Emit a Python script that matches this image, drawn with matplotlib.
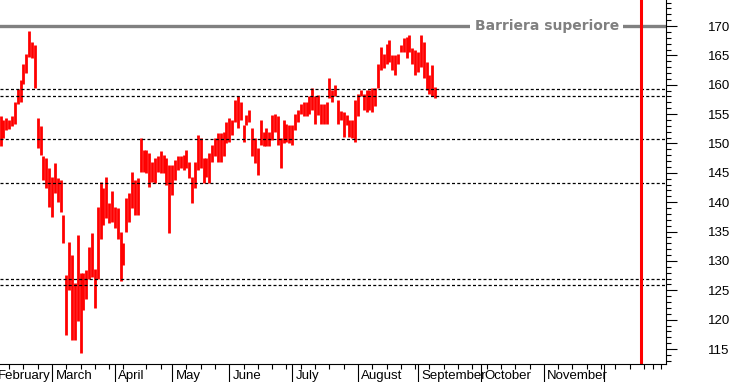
import numpy as np
import matplotlib
matplotlib.use("Agg")
import matplotlib.pyplot as plt

# daily high / low (trading days from 2020-02-05)
start = "2020-02-05"
high = [154.7, 154.0, 154.3, 154.0, 154.6, 157.1, 159.2, 160.8, 163.6, 165.3,
        169.2, 167.3, 166.8, 154.3, 152.9, 147.8, 147.5, 145.8, 144.3, 146.6,
        144.1, 143.8, 137.8, 127.6, 133.3, 131.0, 126.2, 134.4, 127.9, 127.9,
        128.4, 132.4, 134.7, 128.7, 139.2, 143.5, 142.4, 144.3, 139.8, 141.9,
        139.1, 139.0, 135.0, 133.0, 140.7, 141.5, 145.2, 143.8, 144.1, 150.9,
        148.9, 148.9, 148.3, 146.9, 147.5, 147.8, 148.7, 148.0, 147.5, 146.3,
        146.3, 147.2, 147.8, 147.8, 148.0, 148.9, 146.9, 144.3, 146.9, 151.4,
        150.9, 147.5, 147.5, 148.3, 149.8, 150.9, 151.7, 151.7, 152.0, 153.7,
        154.3, 154.0, 157.4, 158.1, 157.1, 153.1, 154.8, 155.7, 152.6, 150.9,
        149.2, 154.0, 152.0, 152.6, 152.0, 154.8, 155.1, 154.6, 150.9, 154.0,
        153.4, 153.1, 153.1, 155.1, 155.7, 156.8, 157.1, 157.1, 158.0, 159.4,
        158.0, 158.3, 156.8, 156.8, 157.1, 161.1, 159.1, 160.0, 157.4, 155.5,
        155.4, 154.8, 154.0, 154.0, 157.4, 158.5, 159.1, 158.5, 159.1, 159.1,
        159.4, 159.4, 163.6, 166.5, 165.3, 167.0, 167.6, 165.0, 165.0, 165.3,
        166.8, 167.9, 168.2, 168.5, 166.2, 165.9, 165.6, 168.5, 167.3, 163.9,
        161.7, 163.4, 159.7]
low = [149.5, 151.0, 152.3, 152.5, 153.0, 153.4, 156.8, 157.0, 160.2, 162.0,
       164.8, 164.5, 159.4, 149.2, 148.0, 143.8, 142.4, 139.2, 137.5, 141.5,
       140.1, 138.4, 133.0, 117.4, 125.0, 116.5, 116.5, 119.7, 114.3, 121.6,
       123.6, 127.0, 127.3, 122.0, 127.0, 133.8, 136.1, 137.3, 136.4, 136.7,
       135.6, 133.8, 126.5, 129.3, 135.0, 136.7, 139.0, 137.8, 137.8, 145.2,
       145.2, 144.9, 142.6, 143.5, 143.2, 145.2, 144.9, 144.9, 142.9, 134.7,
       141.2, 143.8, 145.5, 145.8, 145.5, 145.8, 144.1, 139.8, 142.4, 145.5,
       145.8, 143.2, 144.3, 143.2, 146.9, 147.8, 146.9, 146.9, 147.8, 150.0,
       150.3, 151.4, 153.7, 152.6, 154.0, 150.3, 153.1, 153.7, 147.8, 146.6,
       144.6, 149.7, 149.5, 149.5, 149.5, 150.6, 152.0, 149.7, 145.8, 150.0,
       150.3, 150.0, 149.7, 152.3, 153.7, 155.1, 154.6, 154.6, 155.1, 155.7,
       153.4, 154.8, 153.4, 153.4, 153.4, 157.7, 157.1, 158.0, 153.4, 154.0,
       151.1, 153.1, 151.1, 150.9, 150.3, 154.6, 158.0, 155.7, 155.4, 155.7,
       155.3, 156.3, 159.4, 162.5, 162.8, 163.6, 163.9, 162.5, 161.7, 163.6,
       165.6, 165.6, 164.5, 165.6, 163.6, 161.7, 162.2, 163.1, 161.1, 159.1,
       158.5, 158.0, 157.7]

livelli = [159.2, 158.0, 150.7, 143.2, 126.9, 125.85]
barriera = 170
scadenza = "2020-12-18"
mesi = ["February", "March", "April", "May", "June", "July", "August",
        "September", "October", "November", "December"]

# trading calendar (Borsa Italiana holidays)
hol = ["2020-04-10", "2020-04-13", "2020-05-01", "2020-12-24", "2020-12-25",
       "2020-12-31", "2021-01-01"]
days = np.arange("2020-02-03", "2021-01-20", dtype="datetime64[D]")
days = days[np.is_busday(days, holidays=hol)]
pos = {str(d): i for i, d in enumerate(days)}
x0 = pos[start]
xs = np.arange(x0, x0 + len(high))

months = days.astype("datetime64[M]")
month_starts = [0] + [i for i in range(1, len(days)) if months[i] != months[i - 1]]
weekday = (days.view("int64") - 4) % 7  # 0 = Monday
mondays = [i for i in range(len(days)) if weekday[i] == 0]

fig = plt.figure(figsize=(7.3, 3.82), dpi=100)
ax = fig.add_axes([0, 18 / 382, 666 / 730, 364 / 382])

ax.vlines(xs, low, high, color="#ff0000", lw=2.0)

for lv in livelli:
    ax.axhline(lv, color="black", lw=0.9, ls=(0, (2.4, 1.8)))

ax.axhline(barriera, color="#808080", lw=2.4)
ax.text(193, barriera, "Barriera superiore", color="#808080", fontsize=10,
        fontweight="bold", ha="center", va="center",
        bbox=dict(facecolor="white", edgecolor="none", pad=3))

ax.axvline(pos[scadenza], color="#ff0000", lw=2.2)

for s in ["left", "top"]:
    ax.spines[s].set_visible(False)
ax.spines["right"].set_linewidth(0.8)
ax.spines["bottom"].set_linewidth(0.8)

ax.yaxis.tick_right()
ax.set_yticks(np.arange(115, 171, 5))
ax.set_yticks(np.arange(113, 175, 1), minor=True)
ax.tick_params(axis="y", which="major", length=8, width=0.8, pad=22,
               labelsize=9.5)
ax.tick_params(axis="y", which="minor", length=3.8, width=0.8)
for lab in ax.get_yticklabels():
    lab.set_family("Liberation Sans")

ax.set_xticks(month_starts[:len(mesi)])
ax.set_xticklabels([])
ax.set_xticks(mondays, minor=True)
ax.tick_params(axis="x", which="major", length=14, width=0.8)
ax.tick_params(axis="x", which="minor", length=3.8, width=0.8)

ax.set_xlim(1.82, 234.7)
ax.set_ylim(112.45, 174.43)

for m, i in zip(mesi[:-1], month_starts):
    ax.annotate(m, xy=(i, 0), xycoords=("data", "axes fraction"),
                xytext=(2.5, -4.5), textcoords="offset points",
                ha="left", va="top", fontsize=9.5, family="Liberation Sans",
                annotation_clip=False)

fig.savefig("out.png", dpi=100)
